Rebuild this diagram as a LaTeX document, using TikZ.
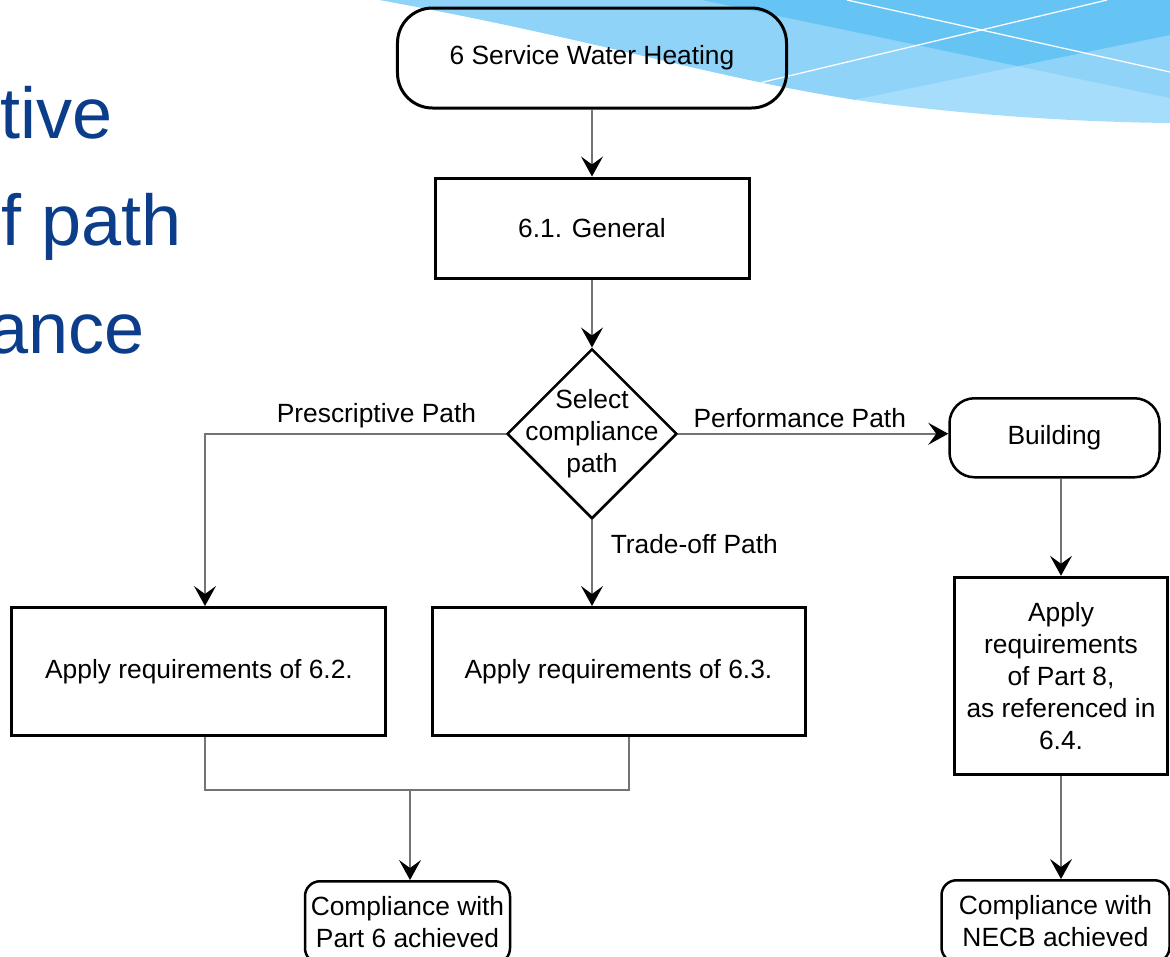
\documentclass[tikz,border=0pt]{standalone}
\usepackage{fontspec}
\setmainfont{Liberation Sans}
\usetikzlibrary{arrows.meta,positioning,shapes.geometric}
\definecolor{slideblue}{HTML}{0B3D8B}
\definecolor{swlight}{HTML}{A6DDFA}
\definecolor{swmid}{HTML}{8FD4F8}
\definecolor{swdark}{HTML}{66C4F5}

\begin{document}
\begin{tikzpicture}[
  x=0.2mm, y=-0.2mm,
  font=\fontsize{15}{18.2}\selectfont,
  startbox/.style={draw, line width=0.6mm, rounded corners=7mm, minimum width=77.8mm, minimum height=20mm},
  procbox/.style={draw, line width=0.6mm, align=center, inner sep=0pt},
  decision/.style={diamond, draw, line width=0.5mm, minimum size=34mm, inner sep=0pt},
  endbox/.style={draw, line width=0.5mm, rounded corners=3mm, align=center, inner sep=0.8mm},
  conn/.style={draw=black!55, line width=0.3mm},
  flow/.style={conn, -{Stealth[length=4mm, width=4.4mm, inset=1.6mm, color=black]}},
  pathlab/.style={inner sep=1mm},
  slidetxt/.style={text=slideblue, font=\fontsize{41}{49}\selectfont, inner sep=0pt, anchor=base east}
]
\useasboundingbox (0,0) rectangle (1170,956);
% slide background swoosh
\begin{scope}
  \clip (380,0) .. controls (600,40) and (720,80) .. (870,102) .. controls (980,116) and (1080,122) .. (1170,123) -- (1170,0) -- cycle;
  \fill[swlight] (380,0) rectangle (1170,130);
  \fill[swmid] (380,0) -- (380,197) -- (1170,35) -- (1170,0) -- cycle;
  \fill[swmid] (702,0) -- (1170,98) -- (1170,0) -- cycle;
  \begin{scope}
    \clip (380,0) -- (380,197) -- (1170,35) -- (1170,0) -- cycle;
    \fill[swdark] (702,0) -- (1170,98) -- (1170,0) -- cycle;
  \end{scope}
  \draw[white, line width=0.25mm] (847,0) -- (1170,72);
  \draw[white, line width=0.25mm] (755,84) -- (1107,0);
\end{scope}
% slide title, cut at the left edge
\node[slidetxt, anchor=base west] (txtone) at (0,138) {tive};
\node[slidetxt] (txttwo) at (182,245) {f path};
\node[slidetxt] (txtthree) at (145,353) {ance};
% main column
\node[startbox] (swh) at (592,58) {6 Service Water Heating};
\node[procbox, below=13.4mm of swh, minimum width=62.8mm, minimum height=20mm] (gen) {6.1. General};
\node[decision, below=13.6mm of gen, label={[align=center]center:Select\\compliance\\path}] (select) {};
\node[procbox, below=17.2mm of select, xshift=5.3mm, minimum width=74.6mm, minimum height=25.6mm] (req63) {Apply requirements of 6.3.};
\node[procbox, left=8.6mm of req63, minimum width=74.8mm, minimum height=25.6mm] (req62) {Apply requirements of 6.2.};
\coordinate (join) at (410,790);
\node[endbox, below=18mm of join, xshift=-0.5mm, minimum width=41mm, minimum height=16.4mm] (part6) {Compliance with\\Part 6 achieved};
% performance column
\node[endbox, right=54mm of select, yshift=-0.8mm, rounded corners=5mm, minimum width=42mm, minimum height=15.8mm] (bldg) {Building};
\node[procbox, below=19.45mm of bldg, xshift=1.3mm, minimum width=42.6mm, minimum height=39.4mm] (req8) {Apply\\requirements\\of Part 8,\\as referenced in\\6.4.};
\node[endbox, below=20.65mm of req8, xshift=-1.1mm, minimum width=45.6mm, minimum height=16.4mm] (necb) {Compliance with\\NECB achieved};
% arrows
\draw[flow] (swh.south) -- (gen.north);
\draw[flow] (gen.south) -- (select.north);
\coordinate (pcorner) at ([xshift=1.2mm]req62.north |- select.west);
\draw[flow] (select.west) -- node[pathlab, above, pos=0.43]{Prescriptive Path} (pcorner) -- ([xshift=1.2mm]req62.north);
\draw[flow] (select.south) -- node[pathlab, right, pos=0.28, xshift=2.6mm]{Trade-off Path} (select.south |- req63.north);
\draw[flow] (select.east) -- node[pathlab, above, pos=0.45]{Performance Path} (select.east -| bldg.west);
\draw[conn] ([xshift=1.2mm]req62.south) |- ([xshift=2.1mm]req63.south |- join) -- ([xshift=2.1mm]req63.south);
\draw[flow] (join) -- (join |- part6.north);
\draw[flow] (req8.north |- bldg.south) -- (req8.north);
\draw[flow] (req8.south) -- (req8.south |- necb.north);
\end{tikzpicture}
\end{document}
